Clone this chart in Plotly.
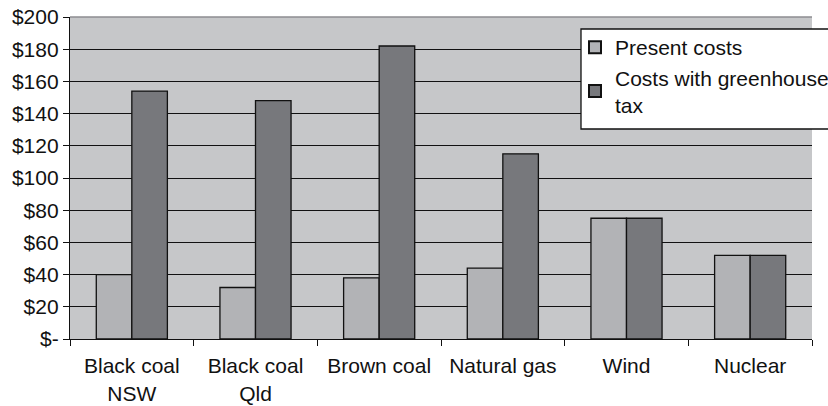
import plotly.graph_objects as go

# Electricity generation cost by source ($ per MWh)
categories = ["Black coal<br>NSW", "Black coal<br>Qld", "Brown coal", "Natural gas", "Wind", "Nuclear"]
present_costs = [40, 32, 38, 44, 75, 52]
greenhouse_costs = [154, 148, 182, 115, 75, 52]
y_ticks = [0, 20, 40, 60, 80, 100, 120, 140, 160, 180, 200]
y_tick_labels = ["$-", "$20", "$40", "$60", "$80", "$100", "$120", "$140", "$160", "$180", "$200"]

FONT = "Liberation Sans, Arial, sans-serif"
FS = 21

fig = go.Figure()
fig.add_trace(go.Bar(
    x=categories, y=present_costs, name="Present costs",
    marker=dict(color="#B2B3B6", line=dict(color="#111111", width=1.3)),
))
fig.add_trace(go.Bar(
    x=categories, y=greenhouse_costs, name="Costs with greenhouse<br>tax",
    marker=dict(color="#77787C", line=dict(color="#111111", width=1.3)),
))

W, H = 828, 406
ml, mr, mt, mb = 70, 16, 17, 67

def px_x(p):
    return (p - ml) / (W - ml - mr)

def px_y(p):
    return 1 - (p - mt) / (H - mt - mb)

# legend frame (extends past the right edge of the page)
fig.add_shape(type="rect", xref="paper", yref="paper",
              x0=px_x(581), x1=px_x(845), y0=px_y(129), y1=px_y(29),
              fillcolor="white", line=dict(color="#111111", width=1.3), layer="above")
# top edge of the plot area
fig.add_shape(type="line", xref="paper", yref="paper", x0=0, x1=1, y0=1, y1=1,
              line=dict(color="#8C8D90", width=1.5), layer="below")

fig.update_layout(
    width=W, height=H,
    margin=dict(l=ml, r=mr, t=mt, b=mb, autoexpand=False),
    paper_bgcolor="white", plot_bgcolor="#C6C7C9",
    barmode="group", bargap=0.425, bargroupgap=0,
    font=dict(family=FONT, size=FS, color="#111111"),
    showlegend=True,
    legend=dict(
        x=px_x(575), y=px_y(27), xanchor="left", yanchor="top",
        bgcolor="rgba(0,0,0,0)", borderwidth=0,
        font=dict(family=FONT, size=FS, color="#111111"),
        itemsizing="constant", tracegroupgap=0, itemwidth=30,
    ),
    xaxis=dict(
        automargin=False,
        showline=True, linecolor="#111111", linewidth=1.3,
        ticks="outside", tickson="boundaries", ticklen=6, tickcolor="#111111", tickwidth=1.3,
        showgrid=False, tickfont=dict(size=FS), ticklabelstandoff=8,
    ),
    yaxis=dict(
        automargin=False,
        range=[0, 200], tickvals=y_ticks, ticktext=y_tick_labels,
        showline=True, linecolor="#111111", linewidth=1.3,
        ticks="outside", ticklen=6, tickcolor="#111111", tickwidth=1.3,
        showgrid=True, gridcolor="#111111", gridwidth=1.2,
        zeroline=False, tickfont=dict(size=FS),
    ),
)

fig.write_html("out.html")
